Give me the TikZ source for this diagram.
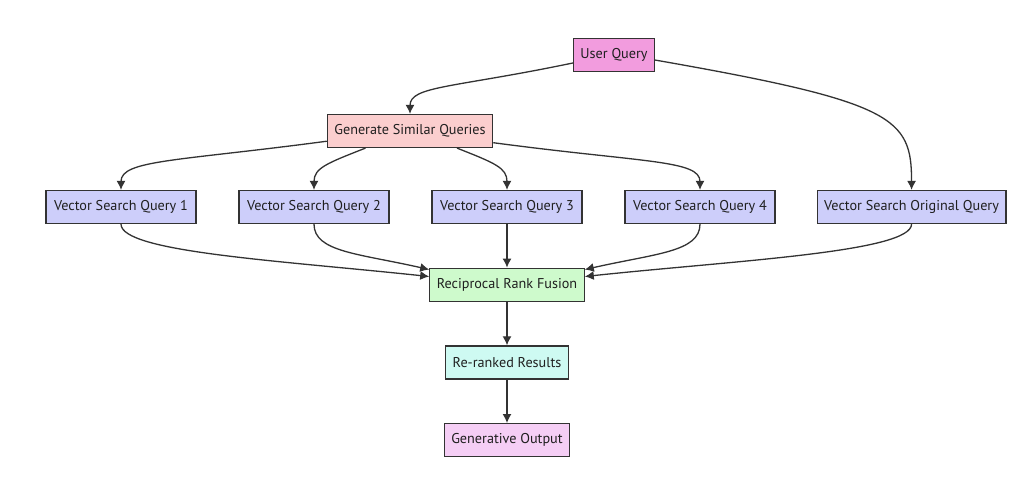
\documentclass[tikz,border=0pt]{standalone}
\usepackage{fontspec}
\setmainfont{PT Sans}
\usepackage{tikz}
\usetikzlibrary{arrows.meta,positioning}
\definecolor{rosa}{RGB}{242,156,222}
\definecolor{salmon}{RGB}{251,206,206}
\definecolor{lila}{RGB}{205,206,250}
\definecolor{verde}{RGB}{206,250,204}
\definecolor{cian}{RGB}{206,250,242}
\definecolor{malva}{RGB}{245,206,245}
\tikzstyle{bloque}=[rectangle,draw=black!80,line width=1.2pt,align=center,minimum height=33pt,inner xsep=7pt,text=black!88,font=\fontsize{14.2}{16}\selectfont]
\tikzstyle{vector}=[bloque,fill=lila,minimum width=150pt]
\tikzstyle{flecha}=[-{Latex[length=9pt,width=9pt]},line width=1.3pt,draw=black!80]

\begin{document}
\begin{tikzpicture}[x=1pt,y=1pt]
	\useasboundingbox[fill=white] (0,0) rectangle (1033,-486);
	\begin{scope}[node distance=41.8pt]
		\node[bloque,fill=rosa] (uq) at (614,-55) {User Query};
		\node[bloque,fill=salmon] (gsq) at (410,-131) {Generate Similar Queries};
		\node[vector] (vsq1) at (121,-207) {Vector Search Query 1};
		\node[vector] (vsq2) [right=of vsq1] {Vector Search Query 2};
		\node[vector] (vsq3) [right=of vsq2] {Vector Search Query 3};
		\node[vector] (vsq4) [right=of vsq3] {Vector Search Query 4};
		\node[vector] (vso) [right=41pt of vsq4] {Vector Search Original Query};
		\node[bloque,fill=verde] (rrf) [below=43.5pt of vsq3] {Reciprocal Rank Fusion};
		\node[bloque,fill=cian] (rr) [below=43.5pt of rrf] {Re-ranked Results};
		\node[bloque,fill=malva] (go) [below=43.5pt of rr] {Generative Output};
	\end{scope}
	% consulta original
	\draw[flecha] (uq.191) .. controls +(-120,-25) and +(0,28) .. (gsq.north);
	\draw[flecha] (uq.353) .. controls +(240,-42) and +(0,72) .. (vso.north);
	% consultas similares
	\draw[flecha] (gsq.187.5) .. controls +(-150,-20) and +(0,30) .. (vsq1.north);
	\draw[flecha] (gsq.201) .. controls +(-38,-15) and +(0,22) .. (vsq2.north);
	\draw[flecha] (gsq.340) .. controls +(38,-15) and +(0,22) .. (vsq3.north);
	\draw[flecha] (gsq.352.5) .. controls +(150,-20) and +(0,30) .. (vsq4.north);
	% fusion
	\draw[flecha] (vsq1.south) .. controls +(0,-28) and +(-150,16) .. (rrf.174.8);
	\draw[flecha] (vsq2.south) .. controls +(0,-28) and +(-70,16) .. (rrf.169);
	\draw[flecha] (vsq3.south) -- (rrf.north);
	\draw[flecha] (vsq4.south) .. controls +(0,-28) and +(70,16) .. (rrf.11.7);
	\draw[flecha] (vso.south) .. controls +(0,-28) and +(150,16) .. (rrf.6.7);
	\draw[flecha] (rrf) -- (rr);
	\draw[flecha] (rr) -- (go);
\end{tikzpicture}
\end{document}
